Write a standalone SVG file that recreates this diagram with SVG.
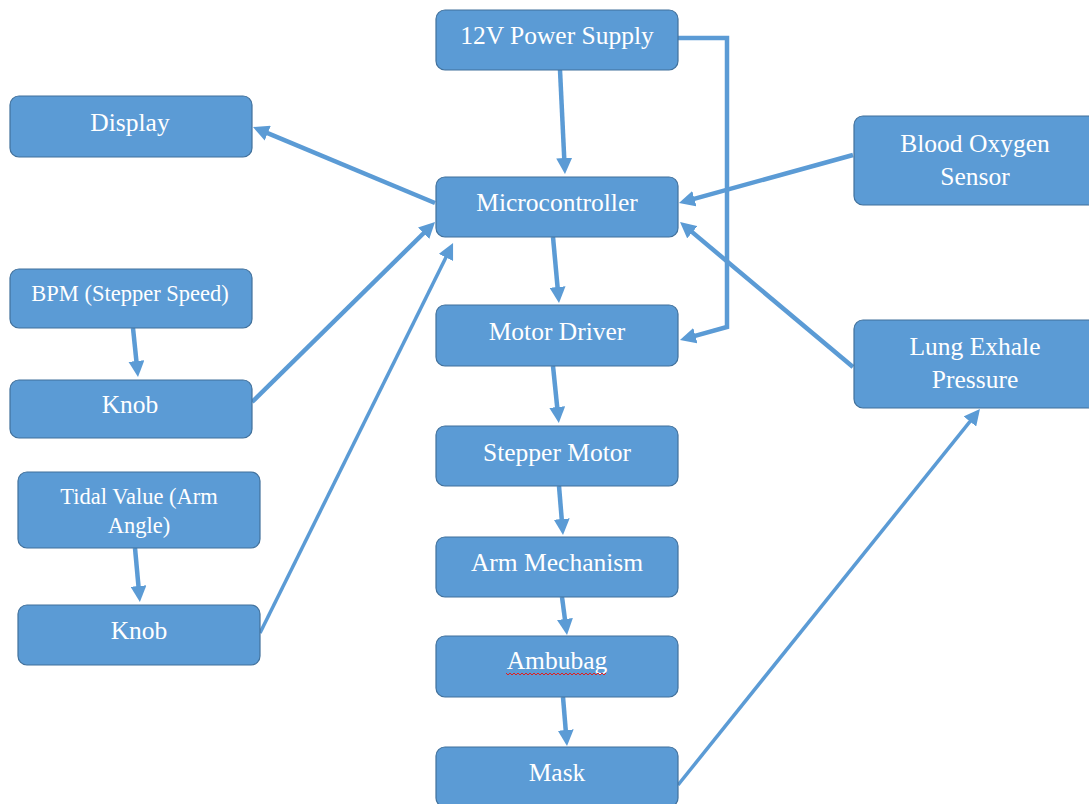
<svg xmlns="http://www.w3.org/2000/svg" width="1089" height="804" viewBox="0 0 1089 804">
<style>
.box{fill:#5B9BD5;stroke:#41719C;stroke-width:1.2}
.t{font-family:"Liberation Serif","Times New Roman",serif;font-size:25.5px;fill:#FFFFFF;text-anchor:middle}
.s{font-size:22.5px}
.c{fill:none;stroke:#5B9BD5;stroke-width:4.5;marker-end:url(#ah)}
.thin{stroke-width:3.5}
</style>
<defs>
<marker id="ah" markerUnits="userSpaceOnUse" viewBox="0 0 16 16" markerWidth="16" markerHeight="16" refX="6" refY="8" orient="auto">
<path d="M0,0 L16,8 L0,16 z" fill="#5B9BD5"/>
</marker>
</defs>
<rect width="1089" height="804" fill="#FFFFFF"/>
<g id="connectors">
<path class="c" d="M560,70 L564.5,164"/>
<path class="c" d="M678,38 L727,38 L727,327 L689.6,337.3"/>
<path class="c" d="M435,203 L262.2,130.9"/>
<path class="c" d="M853,155 L688.6,200.3"/>
<path class="c" d="M853,367 L687.7,228.4"/>
<path class="c" d="M252,402 L427.9,229"/>
<path class="c thin" d="M260,633 L448.6,252"/>
<path class="c" d="M133,328 L137,367"/>
<path class="c" d="M135,548 L139,592"/>
<path class="c" d="M553,237 L558.1,293"/>
<path class="c" d="M553,366 L557.8,413"/>
<path class="c" d="M559,486 L562.2,525"/>
<path class="c" d="M562,597 L565.7,625"/>
<path class="c" d="M563,697 L566.2,736"/>
<path class="c thin" d="M678,785 L973.7,416.8"/>
</g>
<g id="power"><rect class="box" x="436" y="10" width="242" height="60" rx="9"/><text class="t" x="557" y="44">12V Power Supply</text></g>
<g id="micro"><rect class="box" x="436" y="177" width="242" height="60" rx="9"/><text class="t" x="557" y="211">Microcontroller</text></g>
<g id="display"><rect class="box" x="10" y="96" width="242" height="61" rx="9"/><text class="t" x="130" y="131">Display</text></g>
<g id="blood"><rect class="box" x="854" y="116" width="242" height="89" rx="9"/><text class="t" x="975" y="152">Blood Oxygen</text><text class="t" x="975" y="185">Sensor</text></g>
<g id="lung"><rect class="box" x="854" y="320" width="242" height="88" rx="9"/><text class="t" x="975" y="355">Lung Exhale</text><text class="t" x="975" y="388">Pressure</text></g>
<g id="bpm"><rect class="box" x="10" y="269" width="242" height="59" rx="9"/><text class="t s" x="130" y="301">BPM (Stepper Speed)</text></g>
<g id="knob1"><rect class="box" x="10" y="380" width="242" height="58" rx="9"/><text class="t" x="130" y="413">Knob</text></g>
<g id="tidal"><rect class="box" x="18" y="472" width="242" height="76" rx="9"/><text class="t s" x="139" y="504">Tidal Value (Arm</text><text class="t s" x="139" y="533">Angle)</text></g>
<g id="knob2"><rect class="box" x="18" y="605" width="242" height="60" rx="9"/><text class="t" x="139" y="639">Knob</text></g>
<g id="motordriver"><rect class="box" x="436" y="305" width="242" height="61" rx="9"/><text class="t" x="557" y="340">Motor Driver</text></g>
<g id="stepper"><rect class="box" x="436" y="426" width="242" height="60" rx="9"/><text class="t" x="557" y="461">Stepper Motor</text></g>
<g id="arm"><rect class="box" x="436" y="537" width="242" height="60" rx="9"/><text class="t" x="557" y="571">Arm Mechanism</text></g>
<g id="ambubag"><rect class="box" x="436" y="636" width="242" height="61" rx="9"/><text class="t" x="557" y="669">Ambubag</text>
<path d="M506,673 l2,2 l2,-2 l2,2 l2,-2 l2,2 l2,-2 l2,2 l2,-2 l2,2 l2,-2 l2,2 l2,-2 l2,2 l2,-2 l2,2 l2,-2 l2,2 l2,-2 l2,2 l2,-2 l2,2 l2,-2 l2,2 l2,-2 l2,2 l2,-2 l2,2 l2,-2 l2,2 l2,-2 l2,2 l2,-2 l2,2 l2,-2 l2,2 l2,-2 l2,2 l2,-2 l2,2 l2,-2 l2,2 l2,-2 l2,2 l2,-2 l2,2 l2,-2 l2,2 l2,-2 l2,2 l2,-2" fill="none" stroke="#E02020" stroke-width="1"/></g>
<g id="mask"><rect class="box" x="436" y="747" width="242" height="60" rx="9"/><text class="t" x="557" y="781">Mask</text></g>
</svg>
